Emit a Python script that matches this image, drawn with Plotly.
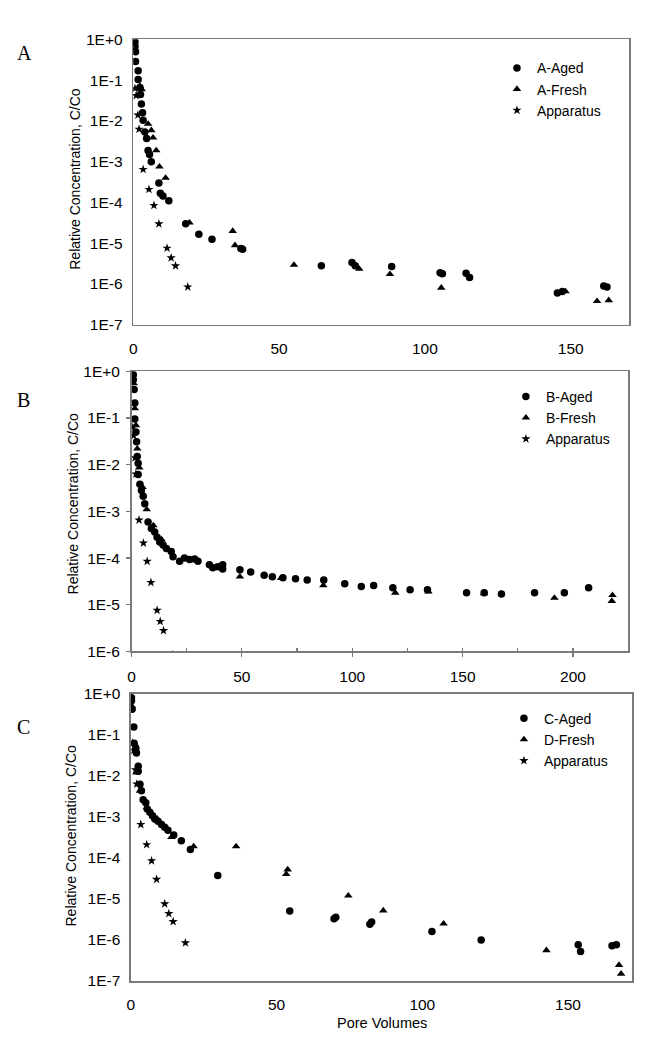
import plotly.graph_objects as go

W, H = 652, 1050

# ---------------- data ----------------
# Apparatus blank (same in all panels)
app_x = [0.6, 1.0, 1.6, 2.0, 3.4, 5.4, 7.1, 8.8, 11.6, 13.0, 14.5, 18.7]
app_y = [0.063, 0.042, 0.014, 0.0063, 6.5e-4, 2.1e-4, 8.5e-5, 3.0e-5, 7.6e-6, 4.4e-6, 2.8e-6, 8.5e-7]

# Panel A
a_aged_x = [0.4, 0.6, 0.6, 0.8, 0.8, 1.7, 1.7, 2.3, 2.5, 2.8, 3.2, 3.4, 4.0, 4.6, 5.1, 5.6, 6.2,
            8.8, 9.3, 10.2, 12.2, 18.0, 22.5, 27.0, 36.9, 37.5, 64.5, 75.0, 76.1, 88.6,
            105.2, 106.0, 114.1, 115.3, 145.4, 147.1, 161.3, 162.4]
a_aged_y = [1.0, 0.88, 0.66, 0.50, 0.29, 0.17, 0.105, 0.066, 0.045, 0.026, 0.016, 0.0105, 0.0054,
            0.0037, 0.0019, 0.0015, 0.0010, 3.0e-4, 1.7e-4, 1.45e-4, 1.1e-4, 3.0e-5, 1.66e-5,
            1.26e-5, 7.4e-6, 7.1e-6, 2.8e-6, 3.4e-6, 2.8e-6, 2.7e-6, 1.9e-6, 1.8e-6, 1.85e-6,
            1.45e-6, 6.0e-7, 6.6e-7, 8.9e-7, 8.5e-7]
a_fresh_x = [0.5, 2.3, 2.9, 5.1, 6.2, 6.8, 7.9, 9.0, 11.1, 19.3, 34.1, 34.9, 55.1, 77.5, 88.0,
             105.6, 148.2, 159.0, 163.0]
a_fresh_y = [0.8, 0.072, 0.06, 0.0085, 0.0059, 0.0039, 0.0019, 7.6e-4, 4.0e-4, 3.2e-5, 2.0e-5,
             8.9e-6, 2.95e-6, 2.35e-6, 1.75e-6, 8.1e-7, 6.6e-7, 3.8e-7, 4.0e-7]

# Panel B
b_aged_x = [0.8, 0.8, 1.2, 1.5, 1.5, 2.0, 2.3, 2.6, 3.0, 3.0, 3.8, 4.5, 5.3, 6.0, 7.5, 9.0, 10.5,
            11.6, 12.8, 14.3, 15.8, 18.0, 18.8, 21.8, 24.0, 26.3, 28.6, 30.1, 35.3, 36.8, 39.0,
            41.3, 41.3, 49.1, 54.0, 60.1, 63.8, 68.6, 74.3, 79.6, 87.1, 96.6, 104.1, 109.7,
            118.4, 126.2, 134.1, 151.8, 159.8, 167.6, 182.6, 196.1, 207.1]
b_aged_y = [0.85, 0.66, 0.41, 0.21, 0.095, 0.05, 0.031, 0.015, 0.0107, 0.0062, 0.0038, 0.0028,
            0.0021, 0.00145, 5.9e-4, 4.3e-4, 3.6e-4, 2.8e-4, 2.2e-4, 1.9e-4, 1.6e-4, 1.38e-4,
            1.07e-4, 8.5e-5, 1.0e-4, 9.3e-5, 9.5e-5, 8.5e-5, 7.2e-5, 6.2e-5, 6.5e-5, 7.2e-5,
            5.8e-5, 5.6e-5, 5.0e-5, 4.3e-5, 4.0e-5, 3.8e-5, 3.6e-5, 3.4e-5, 3.4e-5, 2.8e-5,
            2.45e-5, 2.6e-5, 2.3e-5, 2.1e-5, 2.1e-5, 1.8e-5, 1.8e-5, 1.7e-5, 1.8e-5, 1.8e-5, 2.3e-5]
b_fresh_x = [1.0, 1.5, 2.0, 2.6, 3.5, 5.0, 6.9, 9.9, 13.6, 49.1, 67.7, 86.9, 119.5, 134.5, 159.7,
             191.6, 217.9, 217.6]
b_fresh_y = [0.55, 0.16, 0.07, 0.022, 0.0087, 0.0033, 0.0011, 5.0e-4, 2.5e-4, 4.0e-5, 3.7e-5,
             2.6e-5, 1.8e-5, 1.9e-5, 1.75e-5, 1.4e-5, 1.6e-5, 1.2e-5]

# Panel C
c_aged_x = [0.2, 0.2, 0.4, 1.0, 1.1, 1.7, 1.9, 2.5, 2.5, 3.1, 3.6, 4.2, 5.1, 5.6, 6.5, 7.4, 8.2,
            9.3, 10.5, 11.6, 12.7, 14.7, 17.3, 20.4, 29.8, 54.5, 69.7, 70.3, 82.0, 82.6, 103.3,
            120.2, 153.5, 154.3, 165.1, 166.6]
c_aged_y = [0.8, 0.67, 0.42, 0.155, 0.062, 0.047, 0.036, 0.017, 0.013, 0.0062, 0.0043, 0.0026,
            0.0022, 0.00155, 0.0013, 0.00107, 8.9e-4, 7.8e-4, 6.5e-4, 5.6e-4, 4.7e-4, 3.6e-4,
            2.6e-4, 1.6e-4, 3.7e-5, 5.1e-6, 3.3e-6, 3.6e-6, 2.4e-6, 2.75e-6, 1.6e-6, 1.0e-6,
            7.6e-7, 5.2e-7, 7.2e-7, 7.6e-7]
d_fresh_x = [0.3, 1.3, 1.9, 3.1, 5.5, 9.0, 13.9, 21.5, 36.1, 53.8, 53.3, 74.6, 86.6, 107.3, 142.6,
             167.5, 168.2]
d_fresh_y = [0.5, 0.06, 0.012, 0.0043, 0.0017, 9.0e-4, 3.2e-4, 1.9e-4, 1.9e-4, 5.2e-5, 4.0e-5,
             1.2e-5, 5.2e-6, 2.5e-6, 5.6e-7, 2.45e-7, 1.5e-7]

legend_names_a = ["A-Aged", "A-Fresh", "Apparatus"]
legend_names_b = ["B-Aged", "B-Fresh", "Apparatus"]
legend_names_c = ["C-Aged", "D-Fresh", "Apparatus"]
panel_labels = ["A", "B", "C"]

y_ticks_7 = [1, 1e-1, 1e-2, 1e-3, 1e-4, 1e-5, 1e-6, 1e-7]
y_text_7 = ["1E+0", "1E-1", "1E-2", "1E-3", "1E-4", "1E-5", "1E-6", "1E-7"]
y_ticks_6 = y_ticks_7[:7]
y_text_6 = y_text_7[:7]

x_range_a = [0, 170]
x_range_b = [0, 225]
x_range_c = [0, 172]

y_title = "Relative Concentration, C/Co"
x_title = "Pore Volumes"

# ---------------- figure ----------------
FONT = "Liberation Sans, Arial, sans-serif"
SERIF = "Liberation Serif, Times New Roman, serif"
FRAME = "#7a7a7a"

fig = go.Figure()

# pixel boxes: left, right, top, bottom
boxes = [(130, 629, 31, 321), (128.3, 628, 368.3, 653), (127.7, 632, 696, 988)]

series = [
    (a_aged_x, a_aged_y, a_fresh_x, a_fresh_y, legend_names_a),
    (b_aged_x, b_aged_y, b_fresh_x, b_fresh_y, legend_names_b),
    (c_aged_x, c_aged_y, d_fresh_x, d_fresh_y, legend_names_c),
]

for i, (ax, ay, fx, fy, names) in enumerate(series):
    sfx = "" if i == 0 else str(i + 1)
    xa, ya, lg = "x" + sfx, "y" + sfx, "legend" + sfx
    fig.add_trace(go.Scatter(x=ax, y=ay, mode="markers", name=names[0],
                             marker=dict(symbol="circle", size=7.5, color="black"),
                             xaxis=xa, yaxis=ya, legend=lg))
    fig.add_trace(go.Scatter(x=fx, y=fy, mode="markers", name=names[1],
                             marker=dict(symbol="triangle-up", size=7.5, color="black"),
                             xaxis=xa, yaxis=ya, legend=lg))
    fig.add_trace(go.Scatter(x=app_x, y=app_y, mode="markers", name=names[2],
                             marker=dict(symbol="star", size=7, color="black"),
                             xaxis=xa, yaxis=ya, legend=lg, cliponaxis=True))

x_ranges = [x_range_a, x_range_b, x_range_c]
y_ticks = [(y_ticks_7, y_text_7, [-7, 0]), (y_ticks_6, y_text_6, [-6, 0]), (y_ticks_7, y_text_7, [-7, 0])]
legend_pos = [(496, 44), (505, 378), (503, 705)]
letter_pos = [(21, 45), (20, 397), (20, 730)]
ytitle_pos = [(72, 173), (69, 503), (67.5, 840)]

layout = dict(width=W, height=H, margin=dict(l=0, r=0, t=0, b=0),
              paper_bgcolor="white", plot_bgcolor="white", showlegend=True,
              hovermode=False, font=dict(family=FONT, color="black"))
annotations = []
for i in range(3):
    sfx = "" if i == 0 else str(i + 1)
    l, r, t, b = boxes[i]
    has_ticks = (i == 1)
    xaxis = dict(domain=[l / W, r / W], range=x_ranges[i], anchor="y" + sfx,
                 showline=True, mirror=True, linecolor=FRAME, linewidth=1.5,
                 showgrid=False, zeroline=False, tickmode="linear", tick0=0, dtick=50,
                 tickfont=dict(size=15.5, family=FONT, color="black"),
                 ticks="outside" if has_ticks else "", ticklen=4, tickcolor=FRAME, tickwidth=1.2,
                 ticklabelstandoff=6 if has_ticks else 9)
    if has_ticks:
        xaxis["minor"] = dict(ticks="inside", ticklen=3, dtick=25, tick0=0, tickcolor=FRAME, tickwidth=1.2)
    tv, tt, rg = y_ticks[i]
    yaxis = dict(domain=[1 - b / H, 1 - t / H], type="log", range=rg, anchor="x" + sfx,
                 showline=True, mirror=True, linecolor=FRAME, linewidth=1.5,
                 showgrid=False, zeroline=False, tickmode="array", tickvals=tv, ticktext=tt,
                 tickfont=dict(size=15.5, family=FONT, color="black"),
                 ticks="outside" if has_ticks else "", ticklen=4, tickcolor=FRAME, tickwidth=1.2,
                 ticklabelstandoff=3 if has_ticks else 6)
    layout["xaxis" + sfx] = xaxis
    layout["yaxis" + sfx] = yaxis
    lx, ly = legend_pos[i]
    layout["legend" + sfx] = dict(x=lx / W, y=1 - ly / H, xanchor="left", yanchor="top",
                                  bgcolor="rgba(0,0,0,0)", borderwidth=0,
                                  font=dict(size=14, family=FONT, color="black"),
                                  tracegroupgap=0, itemwidth=30)
    px_, py_ = letter_pos[i]
    annotations.append(dict(text=panel_labels[i], x=px_ / W, y=1 - py_ / H, xref="paper", yref="paper",
                            showarrow=False, xanchor="center", yanchor="middle",
                            font=dict(size=20, family=SERIF, color="black")))
    tx, ty = ytitle_pos[i]
    annotations.append(dict(text=y_title, x=tx / W, y=1 - ty / H, xref="paper", yref="paper",
                            showarrow=False, xanchor="center", yanchor="middle", textangle=-90,
                            font=dict(size=14, family=FONT, color="black")))

annotations.append(dict(text=x_title, x=380 / W, y=1 - 1031 / H, xref="paper", yref="paper",
                        showarrow=False, xanchor="center", yanchor="middle",
                        font=dict(size=14.5, family=FONT, color="black")))
layout["annotations"] = annotations

fig.update_layout(**layout)
fig.write_html("out.html", config={"displayModeBar": False, "staticPlot": True},
               post_script="document.body.style.margin='0';document.body.style.padding='0';")
